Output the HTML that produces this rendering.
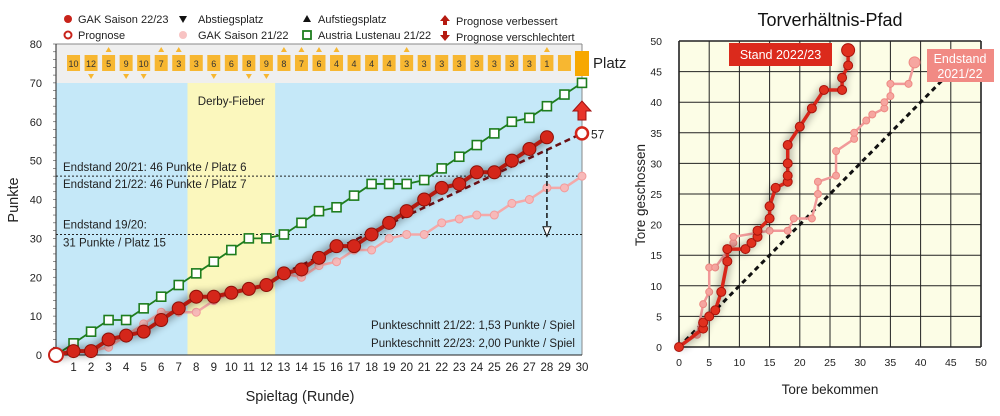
<!DOCTYPE html>
<html><head><meta charset="utf-8"><style>
body{margin:0;background:#fff;width:1000px;height:411px;overflow:hidden;font-family:"Liberation Sans",sans-serif}
</style></head><body>
<svg id="s" width="1000" height="411" xmlns="http://www.w3.org/2000/svg" font-family="Liberation Sans, sans-serif">
<defs><filter id="bl" x="-20%" y="-20%" width="140%" height="140%"><feGaussianBlur stdDeviation="4"/></filter></defs>
</svg>
<script>
const s=document.getElementById('s');let h='';
const X=g=>56+g*17.533, Y=v=>355-v*3.8875;
h+=`<rect x="56" y="44" width="526" height="39" fill="#efefef"/>`;
h+=`<rect x="56" y="83" width="526" height="272" fill="#c5e8f8"/>`;
h+=`<rect x="${X(7.5)}" y="83" width="${X(12.5)-X(7.5)}" height="272" fill="#fbf7bd"/>`;
h+=`<text x="${X(10)}" y="105" font-size="11.5" text-anchor="middle" fill="#222">Derby-Fieber</text>`;
h+=`<line x1="56" y1="44" x2="582" y2="44" stroke="#888"/><line x1="582" y1="44" x2="582" y2="355" stroke="#888"/>`;
h+=`<line x1="56" y1="44" x2="56" y2="355" stroke="#222"/><line x1="56" y1="355" x2="582" y2="355" stroke="#222"/>`;
for(let v=0;v<=80;v+=10){h+=`<text x="42" y="${Y(v)+4}" font-size="11" text-anchor="end" fill="#222">${v}</text>`;}
for(let v=0;v<=80;v+=2){h+=`<line x1="53" x2="56" y1="${Y(v)}" y2="${Y(v)}" stroke="#444" stroke-width="0.6"/>`;}
for(let g=1;g<=30;g++){h+=`<text x="${X(g)}" y="371" font-size="11.5" text-anchor="middle" fill="#222">${g}</text>`;}
h+=`<text x="300" y="401" font-size="14.5" text-anchor="middle" fill="#222">Spieltag (Runde)</text>`;
h+=`<text transform="translate(18,200) rotate(-90)" font-size="14.5" text-anchor="middle" fill="#222">Punkte</text>`;
h+=`<line x1="56" x2="582" y1="${Y(46)}" y2="${Y(46)}" stroke="#222" stroke-dasharray="2,2"/>`;
h+=`<line x1="56" x2="582" y1="${Y(31)}" y2="${Y(31)}" stroke="#222" stroke-dasharray="2,2"/>`;
h+=`<text x="63" y="${Y(46)-5}" font-size="11.5" fill="#222">Endstand 20/21: 46 Punkte / Platz 6</text>`;
h+=`<text x="63" y="${Y(46)+12}" font-size="11.5" fill="#222">Endstand 21/22: 46 Punkte / Platz 7</text>`;
h+=`<text x="63" y="${Y(31)-6}" font-size="11.5" fill="#222">Endstand 19/20:</text>`;
h+=`<text x="63" y="${Y(31)+12}" font-size="11.5" fill="#222">31 Punkte / Platz 15</text>`;
h+=`<text x="575" y="329" font-size="11.5" text-anchor="end" fill="#222">Punkteschnitt 21/22: 1,53 Punkte / Spiel</text>`;
h+=`<text x="575" y="347" font-size="11.5" text-anchor="end" fill="#222">Punkteschnitt 22/23: 2,00 Punkte / Spiel</text>`;
const pl=[10,12,5,9,10,7,3,3,6,6,8,9,8,7,6,4,4,4,4,3,3,3,3,3,3,3,3,1];
const up=[3,6,7,13,14,15,16,20,28], dn=[2,4,5,9,11,12];
pl.forEach((p,i)=>{const g=i+1;h+=`<rect x="${X(g)-6.5}" y="55" width="13" height="16" fill="#f7b731"/><text x="${X(g)}" y="67" font-size="9" text-anchor="middle" fill="#333">${p}</text>`;});
h+=`<rect x="${X(29)-6.5}" y="55" width="13" height="16" fill="#f7b731"/>`;
h+=`<rect x="${X(30)-7}" y="51" width="14" height="25" fill="#f7a800"/>`;
h+=`<text x="593" y="68" font-size="15" fill="#222">Platz</text>`;
up.forEach(g=>h+=`<path d="M${X(g)-3},52 L${X(g)+3},52 L${X(g)},47Z" fill="#f7b731"/>`);
dn.forEach(g=>h+=`<path d="M${X(g)-3},74 L${X(g)+3},74 L${X(g)},79Z" fill="#f7b731"/>`);
const pts=(a)=>a.map((v,i)=>`${X(i)},${Y(v)}`).join(' ');
const green=[0,3,6,9,9,12,15,18,21,24,27,30,30,31,34,37,38,41,44,44,44,45,48,51,54,57,60,61,64,67,70];
const pink=[0,1,1,2,5,8,11,11,11,14,16,17,18,21,20,23,24,27,27,30,31,31,34,35,36,36,39,40,43,43,46];
const red=[0,1,1,4,5,6,9,12,15,15,16,17,18,21,22,25,28,28,31,34,37,40,43,44,47,47,50,53,56];
h+=`<polyline points="${pts(pink)}" fill="none" stroke="#f4a9a9" stroke-width="2.5"/>`;
pink.forEach((v,i)=>{if(i)h+=`<circle cx="${X(i)}" cy="${Y(v)}" r="4" fill="#f7b9b9" stroke="#f29b9b"/>`;});
h+=`<polyline points="${pts(green)}" fill="none" stroke="#1e7d1e" stroke-width="1.8"/>`;
green.forEach((v,i)=>{if(i)h+=`<rect x="${X(i)-4.5}" y="${Y(v)-4.5}" width="9" height="9" fill="#fff" stroke="#1e7d1e" stroke-width="1.6"/>`;});
h+=`<polyline points="${pts(red)}" fill="none" stroke="#000" stroke-width="10" opacity="0.35" filter="url(#bl)"/>`;
h+=`<line x1="${X(13)}" y1="${Y(21)}" x2="${X(30)}" y2="${Y(57)}" stroke="#6a0f14" stroke-width="2.5" stroke-dasharray="6,4"/>`;
h+=`<polyline points="${pts(red)}" fill="none" stroke="#b51a10" stroke-width="4"/>`;
red.forEach((v,i)=>{if(i)h+=`<circle cx="${X(i)}" cy="${Y(v)}" r="6.5" fill="#d4261a" stroke="#8e1008" stroke-width="1"/>`;});
h+=`<circle cx="56" cy="355" r="7" fill="#fff" stroke="#c8231a" stroke-width="2"/>`;
h+=`<circle cx="${X(30)}" cy="${Y(57)}" r="6" fill="#fff" stroke="#d4261a" stroke-width="2.5"/>`;
h+=`<text x="591" y="${Y(57)+5}" font-size="12" fill="#222">57</text>`;
h+=`<path d="M${X(30)-4},120 L${X(30)-4},111 L${X(30)-9},111 L${X(30)},101 L${X(30)+9},111 L${X(30)+4},111 L${X(30)+4},120Z" fill="#e8332a" stroke="#a01010"/>`;
h+=`<line x1="${X(28)}" y1="${Y(53)}" x2="${X(28)}" y2="${Y(32)}" stroke="#111" stroke-width="1.5" stroke-dasharray="5,3"/>`;
h+=`<path d="M${X(28)-4},${Y(33)} L${X(28)+4},${Y(33)} L${X(28)},${Y(30.5)}Z" fill="#fff" stroke="#111"/>`;
const lg=(x,y,sym,t)=>h+=sym+`<text x="${x}" y="${y+4}" font-size="11" fill="#222">${t}</text>`;
lg(78,19,`<circle cx="68" cy="19" r="4" fill="#c8231a"/>`,'GAK Saison 22/23');
lg(78,35,`<circle cx="68" cy="35" r="3.5" fill="#fff" stroke="#c8231a" stroke-width="2"/>`,'Prognose');
lg(198,19,`<path d="M179,16 L187,16 L183,23Z" fill="#111"/>`,'Abstiegsplatz');
lg(198,35,`<circle cx="183" cy="35" r="4" fill="#f8c3c3"/>`,'GAK Saison 21/22');
lg(318,19,`<path d="M303,22 L311,22 L307,15Z" fill="#111"/>`,'Aufstiegsplatz');
lg(318,35,`<rect x="303" y="31" width="8" height="8" fill="#fff" stroke="#1e7d1e" stroke-width="1.8"/>`,'Austria Lustenau 21/22');
lg(456,21,`<path d="M443,25 L443,21 L440,21 L445,15 L450,21 L447,21 L447,25Z" fill="#b51a10"/>`,'Prognose verbessert');
lg(456,37,`<path d="M443,31 L443,35 L440,35 L445,41 L450,35 L447,35 L447,31Z" fill="#b51a10"/>`,'Prognose verschlechtert');
const RX=v=>679+v*6.04, RY=v=>347-v*6.12;
h+=`<text x="830" y="26" font-size="18" text-anchor="middle" fill="#111">Torverhältnis-Pfad</text>`;
h+=`<rect x="${RX(0)}" y="${RY(50)}" width="${RX(50)-RX(0)}" height="${RY(0)-RY(50)}" fill="#fcfde6"/>`;
for(let v=0;v<=50;v+=5){
 h+=`<line x1="${RX(v)}" x2="${RX(v)}" y1="${RY(0)}" y2="${RY(50)}" stroke="#222" stroke-width="${v==0||v==50?1.6:1}"/>`;
 h+=`<line x1="${RX(0)}" x2="${RX(50)}" y1="${RY(v)}" y2="${RY(v)}" stroke="#222" stroke-width="${v==0||v==50?1.6:1}"/>`;
 h+=`<text x="${RX(v)}" y="366" font-size="10.5" text-anchor="middle" fill="#222">${v}</text>`;
 h+=`<text x="662" y="${RY(v)+4}" font-size="10.5" text-anchor="end" fill="#222">${v}</text>`;
}
h+=`<text x="830" y="394" font-size="13.5" text-anchor="middle" fill="#222">Tore  bekommen</text>`;
h+=`<text transform="translate(645,195) rotate(-90)" font-size="13.5" text-anchor="middle" fill="#222">Tore geschossen</text>`;
h+=`<line x1="${RX(0)}" y1="${RY(0)}" x2="${RX(44)}" y2="${RY(44)}" stroke="#111" stroke-width="3" stroke-dasharray="5,4"/>`;
const pk=[[0,0],[3,2],[4,7],[5,9],[5,13],[6,13],[9,17],[9,18],[15,19],[18,19],[19,21],[22,21],[23,25],[23,27],[26,28],[26,32],[29,34],[29,35],[31,37],[32,38],[34,39],[34,40],[35,41],[35,43],[38,43],[39,46.5]];
const rd=[[0,0],[4,3],[4,4],[5,5],[6,6],[7,9],[8,14],[8,16],[11,16],[12,17],[13,18],[13,19],[15,21],[15,23],[16,26],[18,27],[18,28],[18,30],[18,33],[20,36],[22,39],[24,42],[27,42],[27,44],[28,46],[28,48.5]];
const rp=a=>a.map(p=>`${RX(p[0])},${RY(p[1])}`).join(' ');
h+=`<polyline points="${rp(pk)}" fill="none" stroke="#f19a9a" stroke-width="2.5"/>`;
pk.forEach((p,i)=>h+=`<circle cx="${RX(p[0])}" cy="${RY(p[1])}" r="${i==pk.length-1?5.5:3.5}" fill="#f6a6a0" stroke="#ee8a84"/>`);
h+=`<polyline points="${rp(rd)}" fill="none" stroke="#000" stroke-width="8" opacity="0.3" filter="url(#bl)"/>`;
h+=`<polyline points="${rp(rd)}" fill="none" stroke="#d8261a" stroke-width="3.5"/>`;
rd.forEach((p,i)=>h+=`<circle cx="${RX(p[0])}" cy="${RY(p[1])}" r="${i==rd.length-1?6.5:4.5}" fill="#e0301f" stroke="#a8130b"/>`);
h+=`<rect x="729" y="43" width="103" height="23" fill="#db2a1c"/><text x="780.5" y="59" font-size="12.5" text-anchor="middle" fill="#fff">Stand 2022/23</text>`;
h+=`<rect x="927" y="49" width="67" height="33" fill="#f18a84"/><text x="960" y="63" font-size="12.5" text-anchor="middle" fill="#fff">Endstand</text><text x="960" y="78" font-size="12.5" text-anchor="middle" fill="#fff">2021/22</text>`;
s.insertAdjacentHTML('beforeend',h);
</script>
</body></html>
